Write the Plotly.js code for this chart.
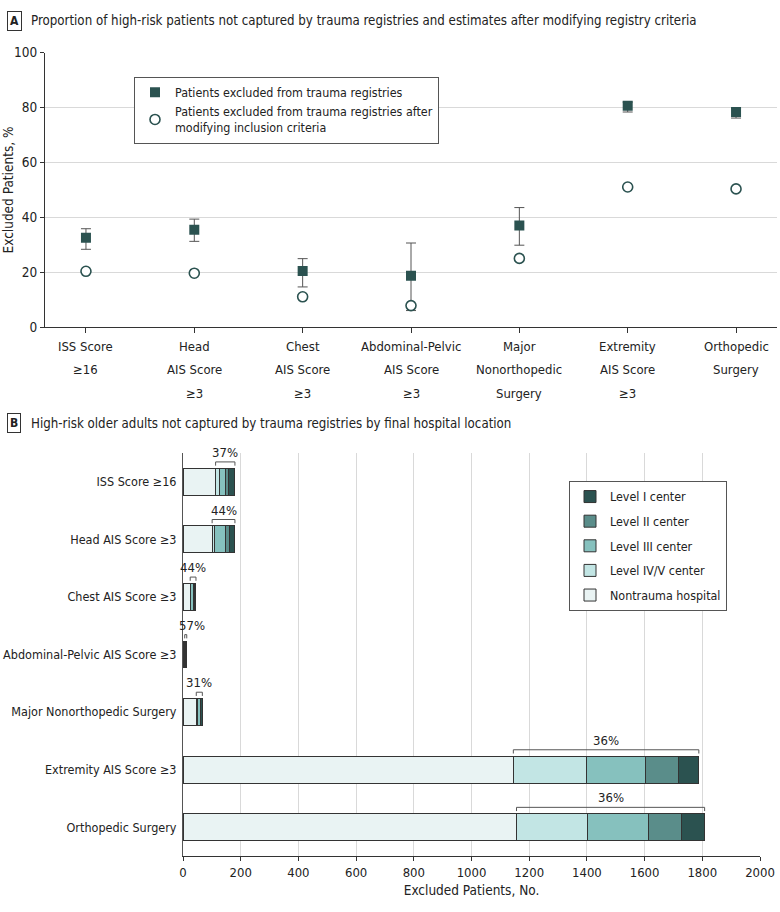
<!DOCTYPE html>
<html>
<head>
<meta charset="utf-8">
<script src="https://cdn.plot.ly/plotly-3.0.1.min.js"></script>
<style>html,body{margin:0;padding:0;background:#fff;}#chart{width:780px;height:912px;}</style>
</head>
<body>
<div id="chart"></div>
<script>
// ---------- Panel A data ----------
const catsA = ['ISS Score<br>≥16', 'Head<br>AIS Score<br>≥3', 'Chest<br>AIS Score<br>≥3', 'Abdominal-Pelvic<br>AIS Score<br>≥3', 'Major<br>Nonorthopedic<br>Surgery', 'Extremity<br>AIS Score<br>≥3', 'Orthopedic<br>Surgery'];
const excludedPct = [32.6, 35.5, 20.5, 18.8, 37.1, 80.7, 78.4];
const ciLow = [28.4, 31.3, 14.7, 6.1, 29.9, 78.4, 76.2];
const ciHigh = [35.9, 39.4, 25.0, 30.7, 43.6, 82.0, 79.7];
const modifiedPct = [20.4, 19.7, 11.1, 7.9, 25.1, 51.1, 50.4];

// ---------- Panel B data ----------
const catsB = ['ISS Score ≥16', 'Head AIS Score ≥3', 'Chest AIS Score ≥3', 'Abdominal-Pelvic AIS Score ≥3', 'Major Nonorthopedic Surgery', 'Extremity AIS Score ≥3', 'Orthopedic Surgery'];
const nontrauma = [113, 101, 25, 6, 46, 1145, 1156];
const level45 = [13, 8, 2, 1, 5, 253, 245];
const level3 = [20, 37, 9, 2, 8, 206, 212];
const level2 = [10, 15, 5, 1, 3, 115, 115];
const level1 = [24, 19, 4, 3, 5, 69, 80];
const pctLabels = ['37%', '44%', '44%', '57%', '31%', '36%', '36%'];

const W = 780, H = 912;
const FONT = '"DejaVu Sans Condensed", "Liberation Sans Narrow", sans-serif';
const TXT = '#222';
const DARK = '#2b5250';

const domAx = [45 / W, 777 / W];
const domAy = [(H - 327.3) / H, (H - 52.7) / H];
const domBx = [183 / W, 760 / W];
const domBy = [(H - 856) / H, (H - 453) / H];

const traces = [];
traces.push({
  type: 'scatter', mode: 'markers', x: catsA.map((c, i) => i), y: excludedPct,
  name: 'Patients excluded from trauma registries', xaxis: 'x', yaxis: 'y', legend: 'legend',
  marker: {symbol: 'square', size: 10, color: DARK},
  error_y: {type: 'data', symmetric: false,
    array: ciHigh.map((v, i) => v - excludedPct[i]),
    arrayminus: excludedPct.map((v, i) => v - ciLow[i]),
    color: '#555', thickness: 1, width: 5}
});
traces.push({
  type: 'scatter', mode: 'markers', x: catsA.map((c, i) => i), y: modifiedPct,
  name: 'Patients excluded from trauma registries after<br>modifying inclusion criteria', xaxis: 'x', yaxis: 'y', legend: 'legend',
  marker: {symbol: 'circle', size: 10, color: '#fff', line: {color: DARK, width: 1.6}}
});

const seriesB = [
  {name: 'Nontrauma hospital', v: nontrauma, c: '#e9f3f3'},
  {name: 'Level IV/V center', v: level45, c: '#c2e5e4'},
  {name: 'Level III center', v: level3, c: '#86c1be'},
  {name: 'Level II center', v: level2, c: '#5a8d8a'},
  {name: 'Level I center', v: level1, c: DARK}
];
seriesB.forEach((s, k) => {
  traces.push({
    type: 'bar', orientation: 'h', x: s.v, y: catsB, name: s.name,
    xaxis: 'x2', yaxis: 'y2', legend: 'legend2', legendgroup: 'g' + k, legendrank: seriesB.length - k,
    marker: {color: s.c, line: {color: '#333', width: 1}},
    hoverinfo: 'x+name'
  });
});

const annotations = [];
const font13 = {family: FONT, size: 13, color: TXT};
// Panel A x category labels (one annotation per line)
catsA.forEach((c, i) => {
  c.split('<br>').forEach((line, j) => {
    annotations.push({xref: 'x', yref: 'paper', x: i, y: domAy[0], yanchor: 'middle', xanchor: 'center',
      yshift: -(19 + 23.4 * j), text: line, showarrow: false, font: font13});
  });
});
// Panel titles
function panelTitle(letter, text, ypx) {
  annotations.push({xref: 'paper', yref: 'paper', x: 7 / W, y: (H - ypx) / H, xanchor: 'left', yanchor: 'middle',
    text: '<b>' + letter + '</b>', showarrow: false, font: {family: FONT, size: 12, color: TXT},
    bordercolor: '#333', borderwidth: 1, borderpad: 2});
  annotations.push({xref: 'paper', yref: 'paper', x: 29 / W, y: (H - ypx) / H, xanchor: 'left', yanchor: 'middle',
    text: text, showarrow: false, font: {family: FONT, size: 13.2, color: TXT}});
}
panelTitle('A', 'Proportion of high-risk patients not captured by trauma registries and estimates after modifying registry criteria', 21);
panelTitle('B', 'High-risk older adults not captured by trauma registries by final hospital location', 423);

// Brackets and percentages in panel B
const shapes = [];
catsB.forEach((c, i) => {
  const x0 = nontrauma[i];
  const x1 = nontrauma[i] + level45[i] + level3[i] + level2[i] + level1[i];
  const yl = i - 0.345, yt = i - 0.28;
  const ln = {color: '#555', width: 1};
  shapes.push({type: 'line', xref: 'x2', yref: 'y2', x0: x0, x1: x1, y0: yl, y1: yl, line: ln});
  shapes.push({type: 'line', xref: 'x2', yref: 'y2', x0: x0, x1: x0, y0: yl, y1: yt, line: ln});
  shapes.push({type: 'line', xref: 'x2', yref: 'y2', x0: x1, x1: x1, y0: yl, y1: yt, line: ln});
  annotations.push({xref: 'x2', yref: 'y2', x: Math.max((x0 + x1) / 2, 31), y: yl, yanchor: 'bottom', xanchor: 'center',
    yshift: 0, text: pctLabels[i], showarrow: false, font: font13});
});

const layout = {
  width: W, height: H, margin: {l: 0, r: 0, t: 0, b: 0},
  paper_bgcolor: '#fff', plot_bgcolor: '#fff',
  font: {family: FONT, size: 13, color: TXT},
  showlegend: true,
  barmode: 'stack', bargap: 0.535,
  xaxis: {domain: domAx, anchor: 'y', range: [-0.378, 6.378], tickvals: catsA.map((c, i) => i), showticklabels: false,
    ticks: 'outside', ticklen: 5, tickcolor: '#333', showline: true, linecolor: '#333', linewidth: 1, showgrid: false, zeroline: false, fixedrange: true},
  yaxis: {domain: domAy, anchor: 'x', range: [0, 100], dtick: 20, ticks: 'outside', ticklen: 4, tickcolor: '#333',
    showline: true, linecolor: '#333', linewidth: 1, showgrid: true, gridcolor: '#d9d9d9', zeroline: false,
    tickfont: {family: FONT, size: 13.5, color: TXT}, title: {text: 'Excluded Patients, %', font: {family: FONT, size: 13.5, color: TXT}, standoff: 5}},
  xaxis2: {domain: domBx, anchor: 'y2', range: [0, 2000], dtick: 200, ticks: 'outside', ticklen: 4, tickcolor: '#333',
    showline: true, linecolor: '#333', linewidth: 1, showgrid: true, gridcolor: '#d9d9d9', zeroline: false,
    tickfont: font13, title: {text: 'Excluded Patients, No.', font: {family: FONT, size: 13.5, color: TXT}, standoff: 6}},
  yaxis2: {domain: domBy, anchor: 'x2', type: 'category', categoryorder: 'array', categoryarray: catsB,
    range: [6.5, -0.5], showline: true, linecolor: '#555', linewidth: 1, ticks: '', showgrid: false, zeroline: false,
    tickfont: {family: FONT, size: 12.5, color: TXT}, ticklabelstandoff: 3},
  legend: {x: 134 / W, y: (H - 76.7) / H, xanchor: 'left', yanchor: 'top', bordercolor: '#555', borderwidth: 1,
    bgcolor: '#fff', font: {family: FONT, size: 12.4, color: TXT}, traceorder: 'normal'},
  legend2: {x: 569 / W, y: (H - 481) / H, xanchor: 'left', yanchor: 'top', bordercolor: '#555', borderwidth: 1,
    bgcolor: '#fff', font: {family: FONT, size: 12.4, color: TXT}, traceorder: 'grouped', tracegroupgap: 5.5},
  annotations: annotations,
  shapes: shapes
};

Plotly.newPlot('chart', traces, layout, {displayModeBar: false, staticPlot: true});
</script>
</body>
</html>
